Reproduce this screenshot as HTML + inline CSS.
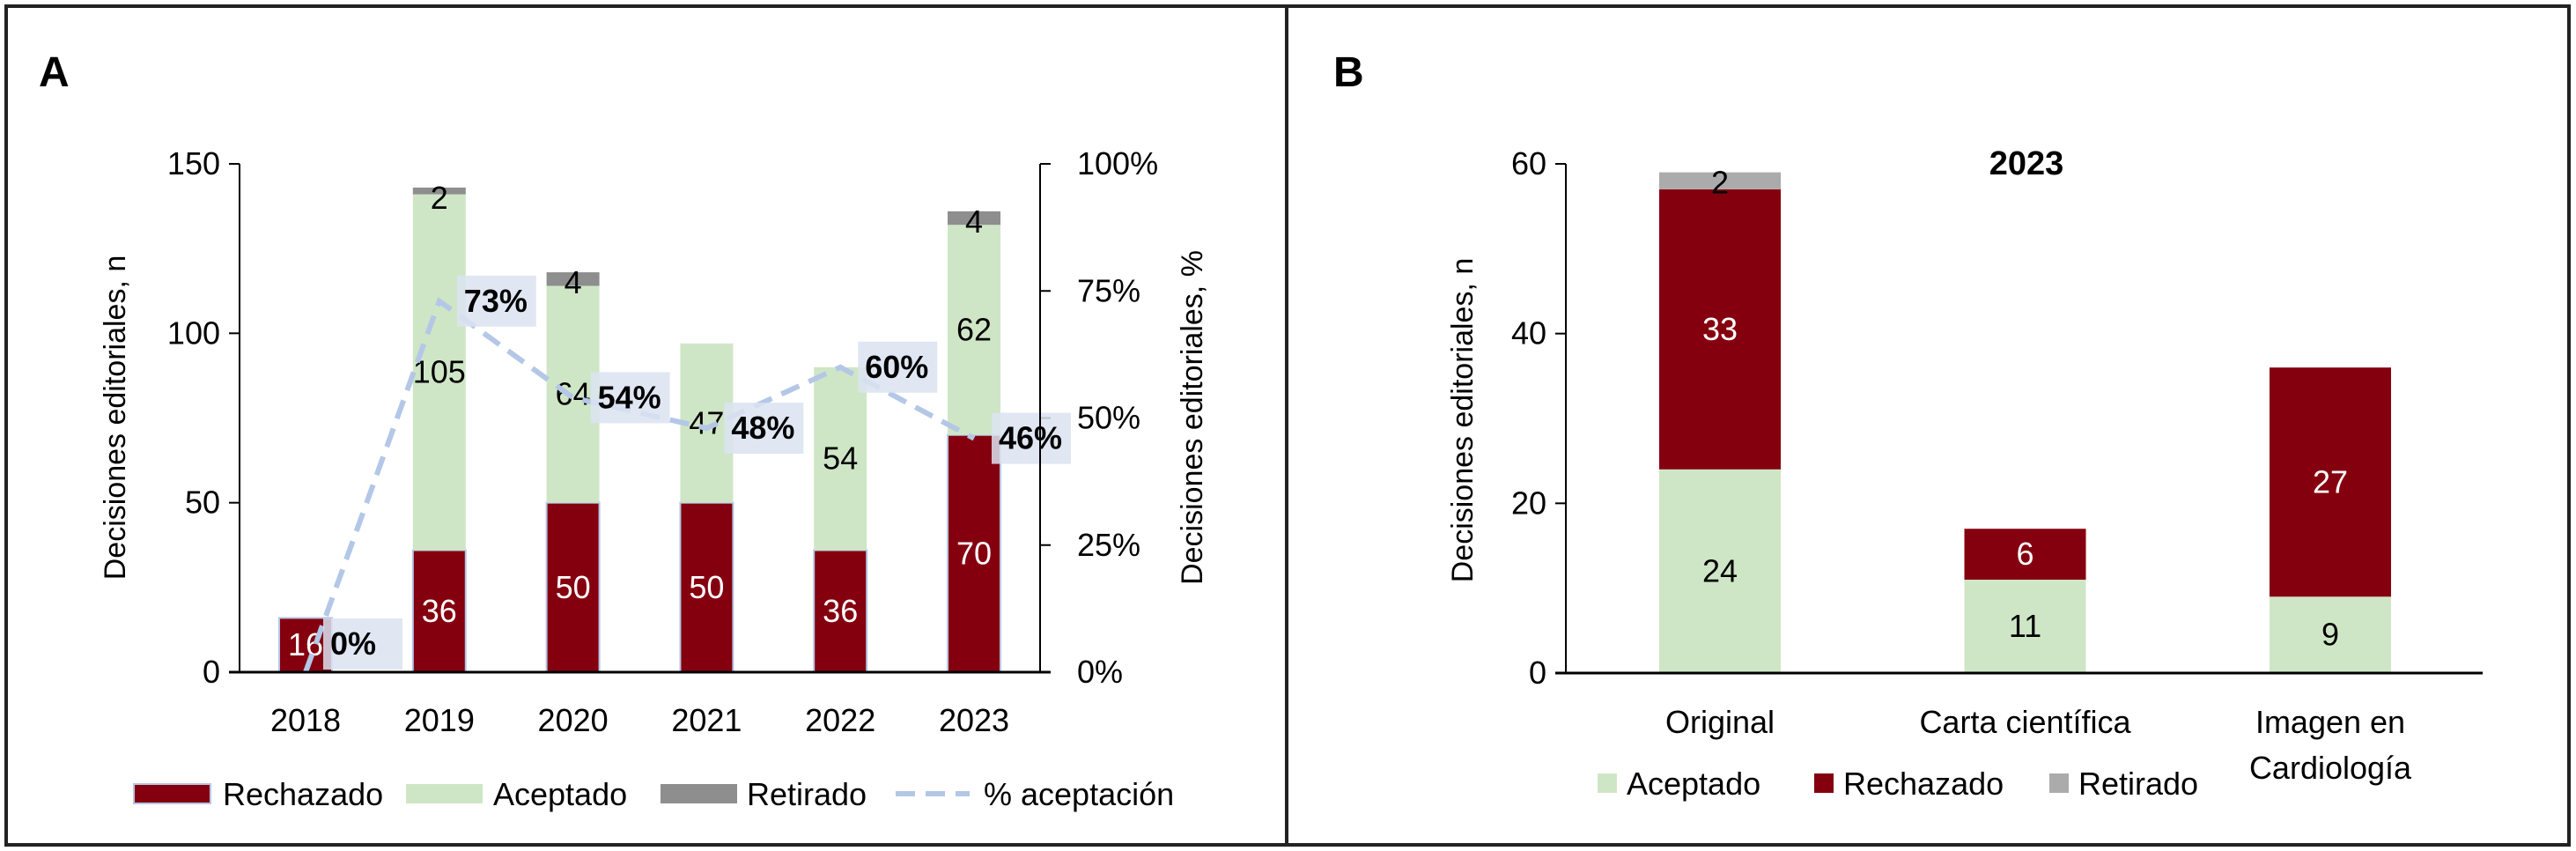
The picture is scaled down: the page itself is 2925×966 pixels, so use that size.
<!DOCTYPE html>
<html><head><meta charset="utf-8"><style>
html,body{margin:0;padding:0;background:#fff}
svg{display:block;font-family:"Liberation Sans Narrow","Liberation Sans",sans-serif}
</style></head><body>
<svg id="c" width="2925" height="966" viewBox="0 0 2925 966" xmlns="http://www.w3.org/2000/svg">
<rect x="7" y="7" width="2910" height="952" fill="none" stroke="#222" stroke-width="4"/>
<line x1="1461" y1="7" x2="1461" y2="959" stroke="#222" stroke-width="4"/>
<text x="44" y="98" font-size="48" font-weight="bold" font-family="Liberation Sans,sans-serif">A</text>
<text x="1514" y="98" font-size="48" font-weight="bold" font-family="Liberation Sans,sans-serif">B</text>
<g id="A"></g>
<g id="B"></g>
</svg>
<script>
const yearsA=["2018","2019","2020","2021","2022","2023"];
const rechA=[16,36,50,50,36,70];
const acepA=[0,105,64,47,54,62];
const retA=[0,2,4,0,0,4];
const pctA=[0,73,54,48,60,46];
const ticksA=[0,50,100,150];
const ticksPct=["0%","25%","50%","75%","100%"];
const catsB=[["Original"],["Carta científica"],["Imagen en","Cardiología"]];
const acepB=[24,11,9];
const rechB=[33,6,27];
const retB=[2,0,0];
const ticksB=[0,20,40,60];

const NS="http://www.w3.org/2000/svg";
function mk(p,t,a,txt){const e=document.createElementNS(NS,t);for(const k in a)e.setAttribute(k,a[k]);if(txt!==undefined)e.textContent=txt;p.appendChild(e);return e;}
const RED="#85000f",GRN="#cfe6c6",GRY="#8e8e8e",GRYB="#ababab",BLU="#b4c7e7",FS=36;

// Panel A
const A=document.getElementById('A');
const ax0=272,ax1=1181,ay0=763,ay1=186;
const yA=v=>ay0-(v/150)*(ay0-ay1);
const yP=p=>ay0-(p/100)*(ay0-ay1);
const xA=i=>347+i*151.8;
const bw=60;
ticksA.forEach(t=>{
 let l=mk(A,'line',{x1:ax0-12,x2:ax0,y1:yA(t),y2:yA(t),stroke:'#000','stroke-width':2});
 
 let tx=mk(A,'text',{x:ax0-22,y:yA(t)+12,'font-size':FS,'text-anchor':'end'},String(t));
 
});
ticksPct.forEach((t,i)=>{
 const y=yP(i*25);
 let l=mk(A,'line',{x1:ax1,x2:ax1+12,y1:y,y2:y,stroke:'#000','stroke-width':2});
 
 let tx=mk(A,'text',{x:ax1+42,y:y+12,'font-size':FS},t);
 
});
yearsA.forEach((yr,i)=>{
 const x=xA(i);
 let r=rechA[i],a=acepA[i],w=retA[i];
 let b1=mk(A,'rect',{x:x-bw/2,y:yA(r),width:bw,height:yA(0)-yA(r),fill:RED,stroke:BLU,'stroke-width':2});
 
 let t1=mk(A,'text',{x:x,y:(yA(0)+yA(r))/2+12,'font-size':FS,'text-anchor':'middle',fill:'#fff'},String(r));
 
 if(a>0){
  let b2=mk(A,'rect',{x:x-bw/2,y:yA(r+a),width:bw,height:yA(r)-yA(r+a),fill:GRN});
  
  let t2=mk(A,'text',{x:x,y:(yA(r)+yA(r+a))/2+12,'font-size':FS,'text-anchor':'middle'},String(a));
  
 }
 if(w>0){
  let b3=mk(A,'rect',{x:x-bw/2,y:yA(r+a+w),width:bw,height:yA(r+a)-yA(r+a+w),fill:GRY});
  
  let t3=mk(A,'text',{x:x,y:yA(r+a+w)+24,'font-size':FS,'text-anchor':'middle'},String(w));
  
 }
 let xl=mk(A,'text',{x:x,y:830,'font-size':FS,'text-anchor':'middle'},yr);
 
});
let pts=pctA.map((p,i)=>xA(i)+','+yP(p)).join(' ');
let pl=mk(A,'polyline',{points:pts,fill:'none',stroke:BLU,'stroke-width':6,'stroke-dasharray':'22,12'});

pctA.forEach((p,i)=>{
 const cx=xA(i)+20, cy=Math.min(yP(p),ay0-32);
 let bx=mk(A,'rect',{x:cx,y:cy-29,width:90,height:58,fill:'#dbe3f1',opacity:0.85});
 
 let t=mk(A,'text',{x:cx+8,y:cy+12,'font-size':FS,'font-weight':'bold'},p+'%');
 
});
let axl=mk(A,'line',{x1:ax0,x2:ax0,y1:ay1,y2:ay0,stroke:'#000','stroke-width':2});

let axr=mk(A,'line',{x1:ax1,x2:ax1,y1:ay1,y2:ay0,stroke:'#000','stroke-width':2});

let axx=mk(A,'line',{x1:ax0-12,x2:ax1+12,y1:ay0,y2:ay0,stroke:'#000','stroke-width':3});

let yl=mk(A,'text',{x:0,y:0,'font-size':34,'text-anchor':'middle','font-family':'Liberation Sans,sans-serif',transform:'translate(142,474) rotate(-90)'},'Decisiones editoriales, n');

let yr2=mk(A,'text',{x:0,y:0,'font-size':34,'text-anchor':'middle','font-family':'Liberation Sans,sans-serif',transform:'translate(1365,474) rotate(-90)'},'Decisiones editoriales, %');

// legend A
[[152,RED,'Rechazado',253],[461,GRN,'Aceptado',560],[750,GRY,'Retirado',848]].forEach(d=>{
 let s=mk(A,'rect',{x:d[0],y:890,width:87,height:22,fill:d[1],stroke:d[1]===RED?BLU:'none','stroke-width':2});
 
 let t=mk(A,'text',{x:d[3],y:914,'font-size':FS},d[2]);
 
});
let ld=mk(A,'line',{x1:1017,x2:1101,y1:901,y2:901,stroke:BLU,'stroke-width':6,'stroke-dasharray':'22,12'});

let lt=mk(A,'text',{x:1117,y:914,'font-size':FS},'% aceptación');


// Panel B
const B=document.getElementById('B');
const bx0=1778,bx1=2819,by0=764,by1=186;
const yB=v=>by0-(v/60)*(by0-by1);
const xB=i=>1953+i*346.5;
const bwB=138;
ticksB.forEach(t=>{
 let l=mk(B,'line',{x1:bx0-12,x2:bx0,y1:yB(t),y2:yB(t),stroke:'#000','stroke-width':2});
 
 let tx=mk(B,'text',{x:bx0-22,y:yB(t)+12,'font-size':FS,'text-anchor':'end'},String(t));
 
});
catsB.forEach((c,i)=>{
 const x=xB(i),a=acepB[i],r=rechB[i],w=retB[i];
 let b1=mk(B,'rect',{x:x-bwB/2,y:yB(a),width:bwB,height:yB(0)-yB(a),fill:GRN});
 
 let t1=mk(B,'text',{x:x,y:(yB(0)+yB(a))/2+12,'font-size':FS,'text-anchor':'middle'},String(a));
 
 let b2=mk(B,'rect',{x:x-bwB/2,y:yB(a+r),width:bwB,height:yB(a)-yB(a+r),fill:RED});
 
 let t2=mk(B,'text',{x:x,y:(yB(a)+yB(a+r))/2+12,'font-size':FS,'text-anchor':'middle',fill:'#fff'},String(r));
 
 if(w>0){
  let b3=mk(B,'rect',{x:x-bwB/2,y:yB(a+r+w),width:bwB,height:yB(a+r)-yB(a+r+w),fill:GRYB});
  
  let t3=mk(B,'text',{x:x,y:(yB(a+r)+yB(a+r+w))/2+14,'font-size':FS,'text-anchor':'middle'},String(w));
  
 }
 c.forEach((ln,j)=>{
  let xl=mk(B,'text',{x:x,y:832+j*52,'font-size':FS,'text-anchor':'middle'},ln);
  
 });
});
let bl=mk(B,'line',{x1:bx0,x2:bx0,y1:by1,y2:by0,stroke:'#000','stroke-width':2});

let bxx=mk(B,'line',{x1:bx0-12,x2:bx1,y1:by0,y2:by0,stroke:'#000','stroke-width':3});

let bt=mk(B,'text',{x:2301,y:198,'font-size':38,'font-weight':'bold','text-anchor':'middle'},'2023');

let byl=mk(B,'text',{x:0,y:0,'font-size':34,'text-anchor':'middle','font-family':'Liberation Sans,sans-serif',transform:'translate(1672,477) rotate(-90)'},'Decisiones editoriales, n');

[[1814,GRN,'Aceptado'],[2060,RED,'Rechazado'],[2327,GRYB,'Retirado']].forEach(d=>{
 let s=mk(B,'rect',{x:d[0],y:878,width:22,height:22,fill:d[1]});
 
 let t=mk(B,'text',{x:d[0]+33,y:902,'font-size':FS},d[2]);
 
});
</script>
</body></html>
